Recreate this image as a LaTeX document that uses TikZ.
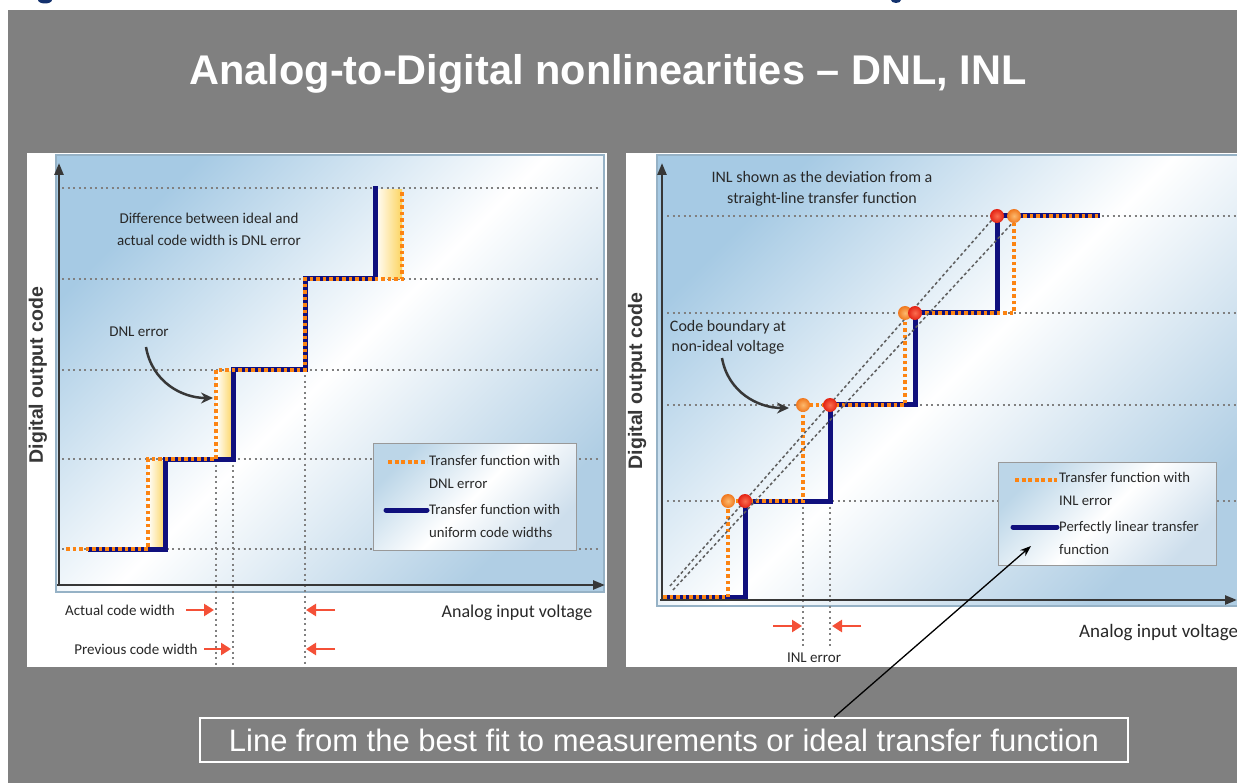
\documentclass[tikz,border=0pt]{standalone}
\usepackage{fontspec}
\setmainfont{Liberation Sans}
\newfontfamily\carl{Carlito}
\usetikzlibrary{arrows.meta}
\definecolor{bggray}{RGB}{128,128,128}
\definecolor{navyb}{RGB}{16,16,125}
\definecolor{orng}{RGB}{252,132,18}
\definecolor{gridg}{RGB}{128,128,128}
\definecolor{txtg}{RGB}{40,40,40}
\definecolor{axisg}{RGB}{55,55,55}
\definecolor{redarr}{RGB}{244,80,55}
\definecolor{plotA}{RGB}{166,202,228}
\definecolor{plotB}{RGB}{176,206,228}
\definecolor{legA}{RGB}{188,214,232}
\definecolor{legB}{RGB}{205,222,236}
\definecolor{frameb}{RGB}{150,178,198}
\definecolor{yel}{RGB}{252,212,95}
\definecolor{titleblue}{RGB}{20,50,110}
\definecolor{dotor}{RGB}{240,120,30}
\definecolor{dotorin}{RGB}{252,185,110}
\definecolor{dotred}{RGB}{228,35,20}
\definecolor{dotredin}{RGB}{250,110,80}
\definecolor{diagg}{RGB}{95,95,95}
\tikzset{
  gridline/.style={gridg, line width=1.6pt, dash pattern=on 2pt off 3.5pt},
  bluestep/.style={navyb, line width=5pt, line join=miter},
  orstep/.style={orng, line width=4pt, dash pattern=on 3.5pt off 3pt},
  axisline/.style={axisg, line width=2.5pt, -{Triangle[length=12pt,width=9pt]}},
  ftxt/.style={font=\carl\fontsize{15}{22}\selectfont, text=txtg, align=center, inner sep=0pt},
  legtxt/.style={font=\carl\fontsize{14.7}{22.5}\selectfont, text=txtg, align=left, inner sep=0pt, anchor=west},
  redarrow/.style={redarr, line width=2.5pt, -{Triangle[length=10pt,width=12pt]}},
  curvearrow/.style={axisg, line width=2.5pt, -{Stealth[length=12pt,width=11pt]}},
  diagline/.style={diagg, line width=1.5pt, dash pattern=on 3pt off 2.5pt},
  ylabel/.style={font=\bfseries\fontsize{19.5}{22}\selectfont, text=axisg, rotate=90, inner sep=0pt},
  plotarea/.style={top color=plotA, bottom color=plotB, middle color=white, shading angle=45},
  legbox/.style={top color=legA, bottom color=legB, middle color=white, shading angle=45},
  yelfill/.style={left color=white, right color=yel},
  ordot/.style={inner color=dotorin, outer color=dotor},
  reddot/.style={inner color=dotredin, outer color=dotred},
}
\begin{document}
\begin{tikzpicture}[x=1pt,y=-1pt]
\useasboundingbox (0,0) rectangle (1237,783);
\fill[white] (0,0) rectangle (1237,783);
\fill[bggray] (8,10) rectangle (1237,783);
\fill[titleblue] (45,0) ellipse (7 and 3.5);
\fill[titleblue] (896,0) ellipse (5 and 3);

\node[font=\bfseries\fontsize{41.5}{48}\selectfont, text=white, inner sep=0pt] (title) at (608,74) {Analog-to-Digital nonlinearities – DNL, INL};

% ===== LEFT PANEL =====
\fill[white] (27,153) rectangle (607,667);
\shade[plotarea] (56,155) rectangle (604,592);
\draw[frameb, line width=1.2pt] (56,155) rectangle (604,592);

\foreach \yy in {188,279,370,459,549} \draw[gridline] (62,\yy) -- (600,\yy);
\draw[gridline] (216,459) -- (216,665);
\draw[gridline] (233,459) -- (233,665);
\draw[gridline] (305,370) -- (305,665);

\shade[yelfill] (148,461) rectangle (165,549);
\shade[yelfill] (216,372) rectangle (233,459);
\shade[yelfill] (375,190) rectangle (402,279);

\draw[bluestep] (88,549) -- (165,549) -- (165,459) -- (233,459) -- (233,370) -- (305,370) -- (305,279) -- (375,279) -- (375,186);
\draw[orstep] (66,549) -- (148,549) -- (148,459) -- (216,459) -- (216,370) -- (305,370) -- (305,279) -- (402,279) -- (402,192);

\coordinate (lo) at (59,585);
\coordinate (lytop) at (59,163);
\coordinate (lxend) at (605,585);
\draw[axisline] (lo) -- (lytop);
\draw[axisline] ([xshift=-2pt]lo) -- (lxend);

\node[ftxt] (diffnote) at (209,229) {Difference between ideal and\\actual code width is DNL error};
\node[ftxt] (dnlnote) at (139,332) {DNL error};
\coordinate (dnltip) at (213,398);
\draw[curvearrow] (146,347) .. controls (152,382) and (182,398) .. (dnltip);

% legend left
\shade[legbox] (373,443) rectangle (576,550);
\draw[gray!80, line width=1pt] (373,443) rectangle (576,550);
\coordinate (lga) at (388,462);
\coordinate (lgb) at (427,462);
\draw[orng, line width=4pt, dash pattern=on 4pt off 2.5pt] (lga) -- (lgb);
\node[legtxt] (lgt1) at (429,472) {Transfer function with\\DNL error};
\coordinate (lgc) at (386,510);
\coordinate (lgd) at (427,510);
\draw[navyb, line width=5pt, line cap=round] (lgc) -- (lgd);
\node[legtxt] (lgt2) at (429,521) {Transfer function with\\uniform code widths};

% bottom labels left
\node[ftxt] (actual) at (120,610) {Actual code width};
\node[ftxt] (previous) at (136,649) {Previous code width};
\coordinate (a1s) at (186,610); \coordinate (a1e) at (214,610);
\coordinate (a2s) at (204,649); \coordinate (a2e) at (231,649);
\coordinate (a3s) at (335,610); \coordinate (a3e) at (306,610);
\coordinate (a4s) at (335,649); \coordinate (a4e) at (306,649);
\draw[redarrow] (a1s) -- (a1e);
\draw[redarrow] (a2s) -- (a2e);
\draw[redarrow] (a3s) -- (a3e);
\draw[redarrow] (a4s) -- (a4e);
\node[ftxt, font=\carl\fontsize{18}{20}\selectfont] (lxlabel) at (517,613) {Analog input voltage};
\node[ylabel] (lylabel) at (38,375) {Digital output code};

% ===== RIGHT PANEL =====
\fill[white] (626,153) rectangle (1240,667);
\shade[plotarea] (657,155) rectangle (1245,606);
\draw[frameb, line width=1.2pt] (657,155) rectangle (1245,606);

\foreach \yy in {216,313,405,501} \draw[gridline] (667,\yy) -- (1237,\yy);
\draw[gridline] (803,501) -- (803,648);
\draw[gridline] (830,501) -- (830,648);

\draw[bluestep] (663,597) -- (745,597) -- (745,501) -- (830,501) -- (830,405) -- (915,405) -- (915,313) -- (997,313) -- (997,216) -- (1100,216);
\draw[orstep] (663,597) -- (728,597) -- (728,501) -- (803,501) -- (803,405) -- (905,405) -- (905,313) -- (1014,313) -- (1014,216) -- (1100,216);

\coordinate (d1a) at (670,586); \coordinate (d1b) at (998,213);
\coordinate (d2a) at (673,590); \coordinate (d2b) at (1017,218);
\draw[diagline] (d1a) -- (d1b);
\draw[diagline] (d2a) -- (d2b);

\foreach \px/\py in {728/501,803/405,905/313,1014/216}
  \shade[ordot] (\px,\py) circle (7);
\foreach \px/\py in {745/501,830/405,915/313,997/216}
  \shade[reddot] (\px,\py) circle (7);

\coordinate (ro) at (662,600);
\coordinate (rytop) at (662,163);
\coordinate (rxend) at (1237,600);
\draw[axisline] (ro) -- (rytop);
\draw[axisline] ([xshift=-2pt]ro) -- (rxend);

\node[ftxt, font=\carl\fontsize{16}{21}\selectfont] (inlnote) at (822,189) {INL shown as the deviation from a\\straight-line transfer function};
\node[ftxt, font=\carl\fontsize{16}{20}\selectfont] (codenote) at (728,337) {Code boundary at\\non-ideal voltage};
\coordinate (codetip) at (789,408);
\draw[curvearrow] (722,358) .. controls (728,392) and (758,408) .. (codetip);

% legend right
\shade[legbox] (998,462) rectangle (1216,565);
\draw[gray!80, line width=1pt] (998,462) rectangle (1216,565);
\coordinate (rga) at (1015,480);
\coordinate (rgb) at (1057,480);
\draw[orng, line width=4pt, dash pattern=on 4pt off 2.5pt] (rga) -- (rgb);
\node[legtxt] (rgt1) at (1059,489) {Transfer function with\\INL error};
\coordinate (rgc) at (1013,527);
\coordinate (rgd) at (1057,527);
\draw[navyb, line width=5pt, line cap=round] (rgc) -- (rgd);
\node[legtxt] (rgt2) at (1059,538) {Perfectly linear transfer\\function};

\coordinate (r1s) at (773,626); \coordinate (r1e) at (802,626);
\coordinate (r2s) at (861,626); \coordinate (r2e) at (832,626);
\draw[redarrow] (r1s) -- (r1e);
\draw[redarrow] (r2s) -- (r2e);
\node[ftxt, font=\carl\fontsize{15}{16}\selectfont] (inlerr) at (814,658) {INL error};
\node[ftxt, font=\carl\fontsize{19}{20}\selectfont, anchor=west] (rxlabel) at (1079,633) {Analog input voltage};
\node[ylabel] (rylabel) at (637,381) {Digital output code};

% ===== bottom callout =====
\node[draw=white, line width=1.5pt, minimum width=928pt, minimum height=44pt, inner sep=0pt,
      font=\fontsize{31}{35}\selectfont, text=white] (bbox) at (664,740) {Line from the best fit to measurements or ideal transfer function};
\coordinate (ctip) at (1031,546);
\draw[black, line width=1.3pt, -{Stealth[length=11pt,width=8pt]}] ([xshift=170pt]bbox.north) -- (ctip);
\end{tikzpicture}
\end{document}
